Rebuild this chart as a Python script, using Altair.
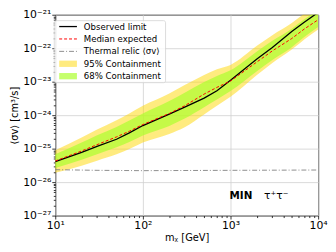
import altair as alt
import pandas as pd

# ---- data (log10 of <sigma v> in cm^3/s) ----
mass = [10, 20, 30, 50, 70, 100, 200, 300, 500, 700, 1000, 2000, 3000, 5000, 7000, 10000]
observed_exp = [-25.39, -25.11, -24.93, -24.72, -24.53, -24.31, -23.97, -23.76, -23.49, -23.27,
                -22.96, -22.32, -21.98, -21.50, -21.22, -20.93]
median_exp = [-25.37, -25.07, -24.88, -24.65, -24.48, -24.28, -23.95, -23.72, -23.37, -23.17,
              -22.98, -22.41, -22.08, -21.71, -21.42, -21.15]
lo68_exp = [-25.58, -25.33, -25.17, -24.96, -24.80, -24.61, -24.32, -24.10, -23.76, -23.53,
            -23.28, -22.69, -22.35, -21.97, -21.66, -21.37]
hi68_exp = [-25.17, -24.82, -24.60, -24.35, -24.16, -23.95, -23.58, -23.33, -23.01, -22.83,
            -22.66, -22.10, -21.78, -21.42, -21.13, -20.87]
lo95_exp = [-25.72, -25.51, -25.36, -25.17, -25.01, -24.82, -24.56, -24.36, -23.98, -23.72,
            -23.45, -22.80, -22.44, -22.04, -21.73, -21.44]
hi95_exp = [-25.05, -24.67, -24.43, -24.15, -23.95, -23.72, -23.35, -23.10, -22.80, -22.63,
            -22.50, -21.93, -21.61, -21.25, -20.96, -20.70]
relic_mass = [10, 30, 100, 1000, 10000]
relic_val = [2.35e-26, 2.25e-26, 2.20e-26, 2.25e-26, 2.30e-26]

x_major = [10, 100, 1000, 10000]
x_major_labels = ["10¹", "10²", "10³", "10⁴"]
y_major_exp = [-27, -26, -25, -24, -23, -22, -21]
y_major_labels = ["10⁻²⁷", "10⁻²⁶", "10⁻²⁵", "10⁻²⁴", "10⁻²³", "10⁻²²", "10⁻²¹"]

legend_labels = ["Observed limit", "Median expected", "Thermal relic ⟨σv⟩",
                 "95% Containment", "68% Containment"]

# ---- tables ----
df = pd.DataFrame({
    "m": mass,
    "obs": [10 ** e for e in observed_exp],
    "med": [10 ** e for e in median_exp],
    "lo68": [10 ** e for e in lo68_exp],
    "hi68": [10 ** e for e in hi68_exp],
    "lo95": [10 ** e for e in lo95_exp],
    "hi95": [10 ** e for e in hi95_exp],
})
relic = pd.DataFrame({"m": relic_mass, "v": relic_val})

x_vals = []
for d in x_major[:-1]:
    x_vals += [d * k for k in range(1, 10)]
x_vals.append(x_major[-1])
y_vals = []
for e in y_major_exp[:-1]:
    y_vals += [k * 10.0 ** e for k in range(1, 10)]
y_vals.append(10.0 ** y_major_exp[-1])

x_expr = ""
for v, lab in zip(x_major, x_major_labels):
    x_expr += f"abs(datum.value - {v}) < 1e-6 ? '{lab}' : "
x_expr += "''"
y_expr = ""
for e, lab in zip(y_major_exp, y_major_labels):
    y_expr += f"abs(log(datum.value)/LN10 - ({e})) < 1e-6 ? '{lab}' : "
y_expr += "''"
is_major = "abs(log(datum.value)/LN10 - round(log(datum.value)/LN10)) < 1e-6"

W, H = 267, 204
FONT = "DejaVu Sans"

xscale = alt.Scale(type="log", domain=[10, 10000], nice=False)
yscale = alt.Scale(type="log", domain=[1e-27, 1e-21], nice=False)

x_axis = alt.Axis(
    values=x_vals, labelExpr=x_expr, title="mᵪ [GeV]",
    tickSize={"condition": {"test": is_major, "value": 3.5}, "value": 2},
    gridOpacity={"condition": {"test": is_major, "value": 1}, "value": 0},
    labelOverlap=False, labelFlush=False, labelBound=False,
    titleX=W / 2, titleY=25, titleBaseline="alphabetic", titleAlign="center",
)
y_axis = alt.Axis(
    values=y_vals, labelExpr=y_expr, title="⟨σv⟩ [cm³/s]",
    tickSize={"condition": {"test": is_major, "value": 3.5}, "value": 2},
    gridOpacity={"condition": {"test": is_major, "value": 1}, "value": 0},
    labelOverlap=False, labelFlush=False, labelBound=False,
    titleX=-41, titleY=H / 2, titleAngle=270, titleAlign="center", titleBaseline="middle",
)

base = alt.Chart(df)
x_enc = alt.X("m:Q", scale=xscale, axis=x_axis)

band95 = base.mark_area(color="#FFD700", opacity=0.5, clip=True, interpolate="monotone").encode(
    x=x_enc, y=alt.Y("lo95:Q", scale=yscale, axis=y_axis), y2="hi95:Q")
band68 = base.mark_area(color="#ADFF2F", opacity=0.7, clip=True, interpolate="monotone").encode(
    x="m:Q", y="lo68:Q", y2="hi68:Q")
relic_line = alt.Chart(relic).mark_line(color="#808080", strokeWidth=0.9,
                                        strokeDash=[5, 2, 1, 2], clip=True).encode(
    x="m:Q", y="v:Q")
obs_line = base.mark_line(color="black", strokeWidth=1.3, clip=True).encode(x="m:Q", y="obs:Q")
med_line = base.mark_line(color="#ff0000", strokeWidth=1.0, strokeDash=[3, 2], clip=True).encode(
    x="m:Q", y="med:Q")

# ---- legend ----
one = pd.DataFrame({"k": [0]})
lx0, ly0 = -1, 6
rows = [ly0 + 6 + i * 12.6 for i in range(5)]
leg_box = alt.Chart(one).mark_rect(fill="white", stroke="#cccccc", strokeWidth=0.8,
                                   cornerRadius=2, opacity=0.85).encode(
    x=alt.value(lx0), x2=alt.value(lx0 + 113), y=alt.value(ly0), y2=alt.value(ly0 + 63))
leg_obs = alt.Chart(one).mark_rule(color="black", strokeWidth=1.3).encode(
    x=alt.value(lx0 + 5), x2=alt.value(lx0 + 23), y=alt.value(rows[0]))
leg_med = alt.Chart(one).mark_rule(color="#ff0000", strokeWidth=1.0, strokeDash=[3, 2]).encode(
    x=alt.value(lx0 + 5), x2=alt.value(lx0 + 23), y=alt.value(rows[1]))
leg_rel = alt.Chart(one).mark_rule(color="#808080", strokeWidth=0.9, strokeDash=[5, 2, 1, 2]).encode(
    x=alt.value(lx0 + 5), x2=alt.value(lx0 + 23), y=alt.value(rows[2]))
leg_95 = alt.Chart(one).mark_rect(color="#FFD700", opacity=0.5).encode(
    x=alt.value(lx0 + 5), x2=alt.value(lx0 + 23), y=alt.value(rows[3] - 3.2), y2=alt.value(rows[3] + 3.2))
leg_68 = alt.Chart(one).mark_rect(color="#ADFF2F", opacity=0.7).encode(
    x=alt.value(lx0 + 5), x2=alt.value(lx0 + 23), y=alt.value(rows[4] - 3.2), y2=alt.value(rows[4] + 3.2))
leg_texts = [
    alt.Chart(one).mark_text(align="left", baseline="middle", font=FONT, fontSize=8.7,
                             color="black").encode(
        x=alt.value(lx0 + 30), y=alt.value(r), text=alt.value(t))
    for r, t in zip(rows, legend_labels)
]

tag1 = alt.Chart(one).mark_text(align="left", baseline="alphabetic", font=FONT, fontSize=10.5,
                                fontWeight="bold", color="black").encode(
    x=alt.value(177), y=alt.value(187), text=alt.value("MIN"))
tag2 = alt.Chart(one).mark_text(align="left", baseline="alphabetic", font=FONT, fontSize=11,
                                color="black").encode(
    x=alt.value(212), y=alt.value(187), text=alt.value("τ⁺τ⁻"))

chart = alt.layer(
    band95, band68, relic_line, obs_line, med_line,
    leg_box, leg_obs, leg_med, leg_rel, leg_95, leg_68, *leg_texts, tag1, tag2
).properties(
    width=W, height=H,
    autosize=alt.AutoSizeParams(type="none"),
    padding={"left": 48, "top": 5, "right": 10, "bottom": 27},
).configure_view(
    stroke="black", strokeWidth=1
).configure_axis(
    domain=False, grid=True, gridColor="#d0d0d0", gridWidth=0.8,
    tickColor="black", tickWidth=0.8,
    labelFont=FONT, labelFontSize=11, labelColor="black", labelPadding=1,
    titleFont=FONT, titleFontSize=10, titleFontWeight="normal", titleColor="black",
)

chart.save("out.html", embed_options={"renderer": "svg", "actions": False})
